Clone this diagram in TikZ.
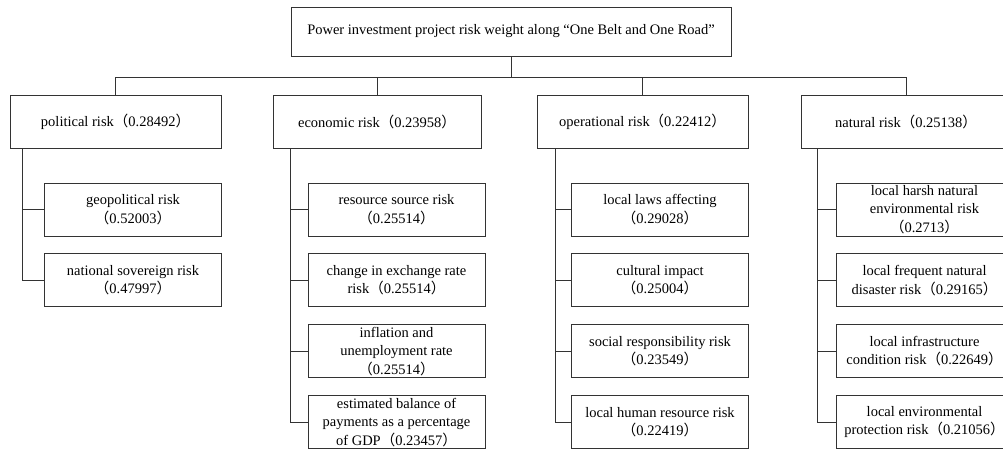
\documentclass[tikz,border=0pt]{standalone}
\usepackage{fontspec}
\setmainfont{Liberation Serif}
\newfontfamily\cjk{Noto Sans CJK SC}
\usetikzlibrary{positioning}
\newcommand{\wt}[1]{{\cjk（}#1{\cjk）}}

\tikzset{
  riskbox/.style={draw=black!80, line width=0.9pt, align=center, inner sep=1pt,
    font=\fontsize{14.5}{18.5}\selectfont},
  mainbox/.style={riskbox, minimum width=211pt, minimum height=53pt},
  subbox/.style={riskbox, minimum width=177pt, minimum height=53pt},
  link/.style={draw=black!80, line width=0.9pt}
}

\begin{document}
\begin{tikzpicture}[x=1pt, y=-1pt]
    \useasboundingbox (0,0) rectangle (1003,450);

    \node[riskbox, minimum width=440pt, minimum height=49pt]
    (top) at (511,31.5) {Power investment project risk weight along “One Belt and One Road”};
    \coordinate (bus) at (511,77);

    \node[mainbox] (pol) at (115.5,121.5) {political risk\wt{0.28492}};
    \node[mainbox, minimum width=208pt] (eco) at (377,121.5) {economic risk\wt{0.23958}};
    \node[mainbox] (ope) at (642.5,121.5) {operational risk\wt{0.22412}};
    \node[mainbox, minimum width=210pt] (nat) at (906,121.5) {natural risk\wt{0.25138}};

    \draw[link] (top) -- (bus);
    \draw[link] (pol.north) -- (pol.north |- bus) -- (nat.north |- bus) -- (nat.north);
    \draw[link] (eco.north) -- (eco.north |- bus);
    \draw[link] (ope.north) -- (ope.north |- bus);

    % political
    \node[subbox] (geo) at (133,209.5) {geopolitical risk\\\wt{0.52003}};
    \node[subbox, below=17pt of geo] (sov) {national sovereign risk\\\wt{0.47997}};
    \draw[link] ([xshift=13pt]pol.south west) |- (geo.west);
    \draw[link] ([xshift=13pt]pol.south west) |- (sov.west);

    % economic
    \node[subbox] (res) at (396.5,209.5) {resource source risk\\\wt{0.25514}};
    \node[subbox, below=17pt of res] (exc) {change in exchange rate\\risk\wt{0.25514}};
    \node[subbox, below=17pt of exc] (inf) {inflation and\\unemployment rate\\\wt{0.25514}};
    \node[subbox, below=17pt of inf] (bal) {estimated balance of\\payments as a percentage\\of GDP\wt{0.23457}};
    \draw[link] ([xshift=18pt]eco.south west) |- (res.west);
    \draw[link] ([xshift=18pt]eco.south west) |- (exc.west);
    \draw[link] ([xshift=18pt]eco.south west) |- (inf.west);
    \draw[link] ([xshift=18pt]eco.south west) |- (bal.west);

    % operational
    \node[subbox] (law) at (660,209.5) {local laws affecting\\\wt{0.29028}};
    \node[subbox, below=17pt of law] (cul) {cultural impact\\\wt{0.25004}};
    \node[subbox, below=17pt of cul] (soc) {social responsibility risk\\\wt{0.23549}};
    \node[subbox, below=17pt of soc] (hum) {local human resource risk\\\wt{0.22419}};
    \draw[link] ([xshift=19pt]ope.south west) |- (law.west);
    \draw[link] ([xshift=19pt]ope.south west) |- (cul.west);
    \draw[link] ([xshift=19pt]ope.south west) |- (soc.west);
    \draw[link] ([xshift=19pt]ope.south west) |- (hum.west);

    % natural
    \node[subbox] (har) at (924.5,209.5) {local harsh natural\\environmental risk\\\wt{0.2713}};
    \node[subbox, below=17pt of har] (dis) {local frequent natural\\disaster risk\wt{0.29165}};
    \node[subbox, below=17pt of dis] (infr) {local infrastructure\\condition risk\wt{0.22649}};
    \node[subbox, below=17pt of infr] (env) {local environmental\\protection risk\wt{0.21056}};
    \draw[link] ([xshift=17pt]nat.south west) |- (har.west);
    \draw[link] ([xshift=17pt]nat.south west) |- (dis.west);
    \draw[link] ([xshift=17pt]nat.south west) |- (infr.west);
    \draw[link] ([xshift=17pt]nat.south west) |- (env.west);
\end{tikzpicture}
\end{document}
